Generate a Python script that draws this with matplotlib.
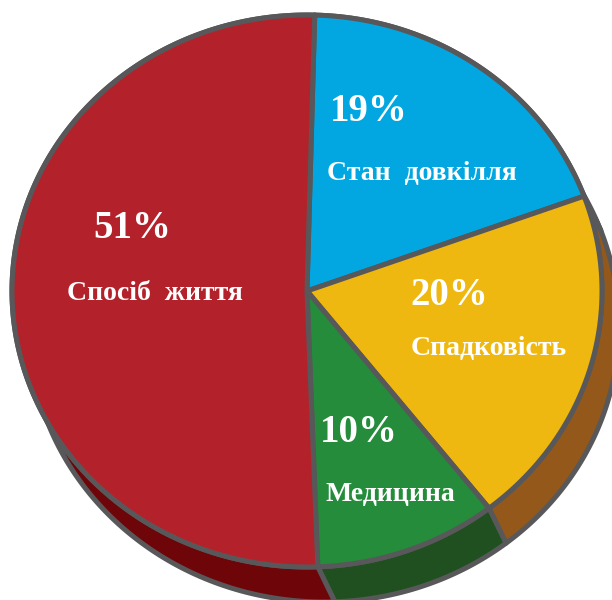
import numpy as np
import matplotlib.pyplot as plt
from matplotlib.patches import Polygon

# slices, clockwise from 12 o'clock
labels = ["Стан  довкілля", "Спадковість", "Медицина", "Спосіб  життя"]
values = [19, 20, 10, 51]
top_colors = ["#02A7E1", "#EFB810", "#248C3A", "#B3222A"]
side_colors = ["#0A6E95", "#94591A", "#20501F", "#6D0509"]

# label layout (pixel coords: left x, baseline y of percent, baseline y of name)
label_pos = [(330, 121, 180), (410, 305, 355), (320, 442, 501), (93, 238, 300)]
name_dx = [-3, 1, 6, -26]

cx, cy = 307, 291
rx, ry = 295, 276
off = np.array([17, 35])
start_angle = 88.5
edge = "#58585A"
lw = 3.6


def arc(t0, t1, shift=(0, 0), n=200):
    t = np.radians(np.linspace(t0, t1, n))
    x = cx + rx * np.cos(t) + shift[0]
    y = cy - ry * np.sin(t) + shift[1]
    return np.column_stack([x, y])


fig = plt.figure(figsize=(6.12, 6.0), dpi=100)
ax = fig.add_axes([0, 0, 1, 1])
ax.set_xlim(0, 612)
ax.set_ylim(600, 0)
ax.axis("off")

fracs = np.array(values) / sum(values)
starts = start_angle - 360 * np.concatenate([[0], np.cumsum(fracs)[:-1]])
ends = starts - 360 * fracs

# side walls
for s, e, c in zip(starts, ends, side_colors):
    top = arc(s, e)
    bot = arc(s, e, off)
    band = np.vstack([top, bot[::-1]])
    ax.add_patch(Polygon(band, closed=True, facecolor=c, edgecolor=edge,
                         linewidth=lw, joinstyle="round"))

# top faces
for s, e, c in zip(starts, ends, top_colors):
    pts = np.vstack([[cx, cy], arc(s, e)])
    ax.add_patch(Polygon(pts, closed=True, facecolor=c, edgecolor=edge,
                         linewidth=lw, joinstyle="round"))

font = dict(family="Liberation Serif", weight="bold", color="white")
for lab, v, (x, yp, yn), dx in zip(labels, values, label_pos, name_dx):
    ax.text(x, yp, f"{v}%", fontsize=28, ha="left", va="baseline", **font)
    ax.text(x + dx, yn, lab, fontsize=20, ha="left", va="baseline", **font)

fig.savefig("out.png", dpi=100)
